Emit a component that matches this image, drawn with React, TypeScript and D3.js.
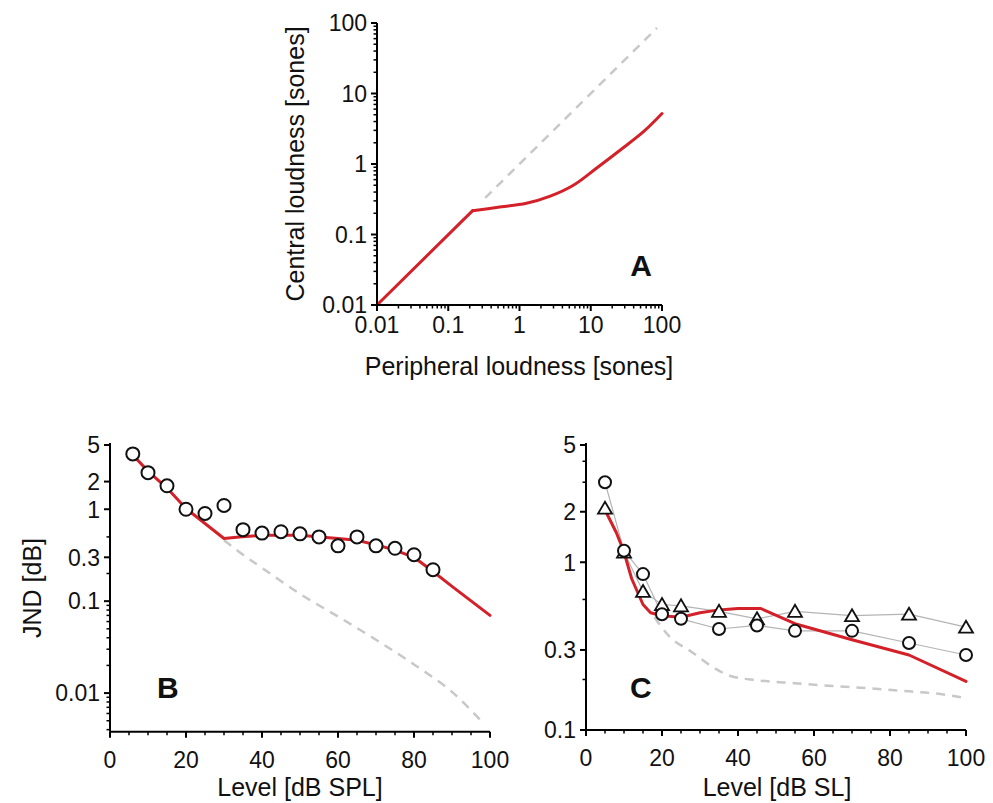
import * as d3 from "d3";

const FONT = "'Liberation Sans', Arial, Helvetica, sans-serif";
const RED = "#d42129";
const DASH = "#c8c8c8";
const LINK = "#b4b4b4";

// panel A: central vs peripheral loudness
const aPeriph = [0.01, 0.22];
const aCentral = [0.01, 0.218];
const aCurveX = [0.22, 0.5, 1.25, 2.7, 5.7, 12, 26, 55, 100];
const aCurveY = [0.218, 0.243, 0.277, 0.35, 0.5, 0.87, 1.58, 2.87, 5.2];
const aIdentX = [0.33, 85];
const aIdentY = [0.33, 85];
const aTicks = [0.01, 0.1, 1, 10, 100];
const aTickLabels = ["0.01", "0.1", "1", "10", "100"];

// panel B: JND vs level in dB SPL
const bDataX = [6, 10, 15, 20, 25, 30, 35, 40, 45, 50, 55, 60, 65, 70, 75, 80, 85];
const bDataY = [4.0, 2.5, 1.8, 1.0, 0.9, 1.1, 0.6, 0.55, 0.57, 0.54, 0.5, 0.4, 0.5, 0.4, 0.376, 0.32, 0.22];
const bModelX = [6, 10, 15, 20, 25, 30, 34, 40, 50, 60, 65, 70, 75, 80, 85, 90, 100];
const bModelY = [3.9, 2.6, 1.7, 1.02, 0.7, 0.48, 0.5, 0.52, 0.52, 0.48, 0.46, 0.41, 0.36, 0.3, 0.21, 0.145, 0.07];
const bPeriX = [30, 35, 40, 50, 60, 70, 80, 90, 98];
const bPeriY = [0.46, 0.32, 0.23, 0.12, 0.068, 0.038, 0.0205, 0.0103, 0.0048];
const bYTicks = [5, 2, 1, 0.3, 0.1, 0.01];
const bYLabels = ["5", "2", "1", "0.3", "0.1", "0.01"];
const bYMinor = [0.5, 0.2, 0.09, 0.08, 0.07, 0.06, 0.05, 0.04, 0.03, 0.02, 0.009, 0.008, 0.007, 0.006, 0.005, 0.004];

// panel C: JND vs level in dB SL
const cDataX = [5, 10, 15, 20, 25, 35, 45, 55, 70, 85, 100];
const cCircY = [3.0, 1.17, 0.85, 0.49, 0.46, 0.4, 0.42, 0.39, 0.39, 0.33, 0.28];
const cTriY = [2.1, 1.15, 0.67, 0.56, 0.55, 0.51, 0.46, 0.51, 0.48, 0.49, 0.41];
const cModelX = [5, 8, 10, 12, 15, 17, 20, 25, 30, 35, 40, 46, 55, 70, 85, 100];
const cModelY = [2.05, 1.5, 1.15, 0.8, 0.56, 0.5, 0.48, 0.47, 0.5, 0.52, 0.53, 0.53, 0.43, 0.345, 0.28, 0.195];
const cPeriX = [18, 22, 28, 33, 38, 45, 55, 65, 75, 85, 92, 100];
const cPeriY = [0.47, 0.36, 0.29, 0.24, 0.21, 0.198, 0.19, 0.183, 0.177, 0.17, 0.165, 0.155];
const cYTicks = [5, 2, 1, 0.3, 0.1];
const cYLabels = ["5", "2", "1", "0.3", "0.1"];
const cYMinor = [4, 3, 0.6, 0.2];

const levelTicks = [0, 20, 40, 60, 80, 100];
const levelMinor = d3.range(5, 100, 5).filter((v) => v % 20 !== 0);

// log minor ticks 2..9 per decade
const logMinor = (lo: number, hi: number) => {
  const out: number[] = [];
  for (let e = lo; e < hi; e++) for (let k = 2; k <= 9; k++) out.push(k * Math.pow(10, e));
  return out;
};

type Sc = (v: number) => number;

const pathOf = (sx: Sc, sy: Sc, xs: number[], ys: number[], curve: any = d3.curveLinear) =>
  d3
    .line<number>()
    .x((_, i) => sx(xs[i]))
    .y((d) => sy(d))
    .curve(curve)(ys) as string;

function LeftAxis({ sy, x, ticks, labels, minor, top, bottom }: any) {
  return (
    <g>
      <line x1={x} x2={x} y1={top} y2={bottom} stroke="#000" strokeWidth={2} />
      {ticks.map((t: number, i: number) => (
        <g key={"t" + i}>
          <line x1={x - 6} x2={x} y1={sy(t)} y2={sy(t)} stroke="#000" strokeWidth={2} />
          <text x={x - 10} y={sy(t)} dy="0.36em" textAnchor="end" fontSize={23} fontFamily={FONT} fill="#111">
            {labels[i]}
          </text>
        </g>
      ))}
      {minor.map((t: number, i: number) => (
        <line key={"m" + i} x1={x - 3.5} x2={x} y1={sy(t)} y2={sy(t)} stroke="#000" strokeWidth={1.5} />
      ))}
    </g>
  );
}

function BottomAxis({ sx, y, ticks, labels, minor, left, right, labelOffset }: any) {
  return (
    <g>
      <line x1={left} x2={right} y1={y} y2={y} stroke="#000" strokeWidth={2} />
      {ticks.map((t: number, i: number) => (
        <g key={"t" + i}>
          <line x1={sx(t)} x2={sx(t)} y1={y} y2={y + 6} stroke="#000" strokeWidth={2} />
          <text x={sx(t)} y={y + labelOffset} dy="0.36em" textAnchor="middle" fontSize={23} fontFamily={FONT} fill="#111">
            {labels[i]}
          </text>
        </g>
      ))}
      {minor.map((t: number, i: number) => (
        <line key={"m" + i} x1={sx(t)} x2={sx(t)} y1={y} y2={y + 3.5} stroke="#000" strokeWidth={1.5} />
      ))}
    </g>
  );
}

const Circles = ({ sx, sy, xs, ys, r }: any) => (
  <g>
    {ys.map((v: number, i: number) => (
      <circle key={i} cx={sx(xs[i])} cy={sy(v)} r={r} fill="#fff" stroke="#111" strokeWidth={2} />
    ))}
  </g>
);

const Triangles = ({ sx, sy, xs, ys }: any) => (
  <g>
    {ys.map((v: number, i: number) => {
      const cx = sx(xs[i]);
      const cy = sy(v);
      return (
        <path
          key={i}
          d={`M${cx},${cy - 6.5}L${cx + 7},${cy + 5.5}L${cx - 7},${cy + 5.5}Z`}
          fill="#fff"
          stroke="#111"
          strokeWidth={1.8}
          strokeLinejoin="miter"
        />
      );
    })}
  </g>
);

export default function App() {
  // panel A scales
  const axA = d3.scaleLog().domain([0.01, 100]).range([377, 662]);
  const ayA = d3.scaleLog().domain([0.01, 100]).range([305, 23]);
  // panel B scales
  const bx = d3.scaleLinear().domain([0, 100]).range([110, 490]);
  const by = d3.scaleLog().domain([0.0038, 5]).range([731.7, 445]);
  // panel C scales
  const cx = d3.scaleLinear().domain([0, 100]).range([586, 966]);
  const cy = d3.scaleLog().domain([0.1, 5]).range([730, 445]);

  const lineStyle = { fill: "none", stroke: RED, strokeWidth: 3, strokeLinejoin: "round" as const, strokeLinecap: "round" as const };
  const dashStyle = { fill: "none", stroke: DASH, strokeWidth: 2.5, strokeDasharray: "9 7" };

  return (
    <div>
      <svg width={993} height={803} style={{ position: "absolute", left: 0, top: 0, background: "#fff" }}>
        {/* Panel A */}
        <path d={pathOf(axA, ayA, aIdentX, aIdentY)} {...dashStyle} />
        <path d={pathOf(axA, ayA, aPeriph, aCentral)} {...lineStyle} />
        <path d={pathOf(axA, ayA, aCurveX, aCurveY, d3.curveCatmullRom.alpha(0.5))} {...lineStyle} />
        <LeftAxis sy={ayA} x={377} ticks={aTicks} labels={aTickLabels} minor={logMinor(-2, 2)} top={23} bottom={305} />
        <BottomAxis sx={axA} y={305} ticks={aTicks} labels={aTickLabels} minor={logMinor(-2, 2)} left={377} right={662} labelOffset={20} />
        <text x={652} y={276} textAnchor="end" fontSize={30} fontWeight="bold" fontFamily={FONT} fill="#111">A</text>
        <text x={519} y={375} textAnchor="middle" fontSize={25} fontFamily={FONT} fill="#111">Peripheral loudness [sones]</text>
        <text transform="translate(304,164) rotate(-90)" textAnchor="middle" fontSize={25} fontFamily={FONT} fill="#111">
          Central loudness [sones]
        </text>

        {/* Panel B */}
        <path d={pathOf(bx, by, bPeriX, bPeriY, d3.curveCatmullRom.alpha(0.5))} {...dashStyle} />
        <path d={pathOf(bx, by, bModelX, bModelY)} {...lineStyle} />
        <Circles sx={bx} sy={by} xs={bDataX} ys={bDataY} r={6.5} />
        <LeftAxis sy={by} x={110} ticks={bYTicks} labels={bYLabels} minor={bYMinor} top={443} bottom={731.7} />
        <BottomAxis sx={bx} y={731.7} ticks={levelTicks} labels={levelTicks.map(String)} minor={levelMinor} left={110} right={490} labelOffset={28} />
        <text x={157} y={698} fontSize={30} fontWeight="bold" fontFamily={FONT} fill="#111">B</text>
        <text x={300} y={796} textAnchor="middle" fontSize={25} fontFamily={FONT} fill="#111">Level [dB SPL]</text>
        <text transform="translate(41,588) rotate(-90)" textAnchor="middle" fontSize={25} fontFamily={FONT} fill="#111">
          JND [dB]
        </text>

        {/* Panel C */}
        <path d={pathOf(cx, cy, cPeriX, cPeriY, d3.curveMonotoneX)} {...dashStyle} />
        <path d={pathOf(cx, cy, cDataX, cTriY)} fill="none" stroke={LINK} strokeWidth={1.2} />
        <path d={pathOf(cx, cy, cDataX, cCircY)} fill="none" stroke={LINK} strokeWidth={1.2} />
        <path d={pathOf(cx, cy, cModelX, cModelY)} {...lineStyle} />
        <Triangles sx={cx} sy={cy} xs={cDataX} ys={cTriY} />
        <Circles sx={cx} sy={cy} xs={cDataX} ys={cCircY} r={6} />
        <LeftAxis sy={cy} x={586} ticks={cYTicks} labels={cYLabels} minor={cYMinor} top={443} bottom={730} />
        <BottomAxis sx={cx} y={730} ticks={levelTicks} labels={levelTicks.map(String)} minor={levelMinor} left={586} right={966} labelOffset={28} />
        <text x={630} y={698} fontSize={30} fontWeight="bold" fontFamily={FONT} fill="#111">C</text>
        <text x={777} y={796} textAnchor="middle" fontSize={25} fontFamily={FONT} fill="#111">Level [dB SL]</text>
      </svg>
    </div>
  );
}
